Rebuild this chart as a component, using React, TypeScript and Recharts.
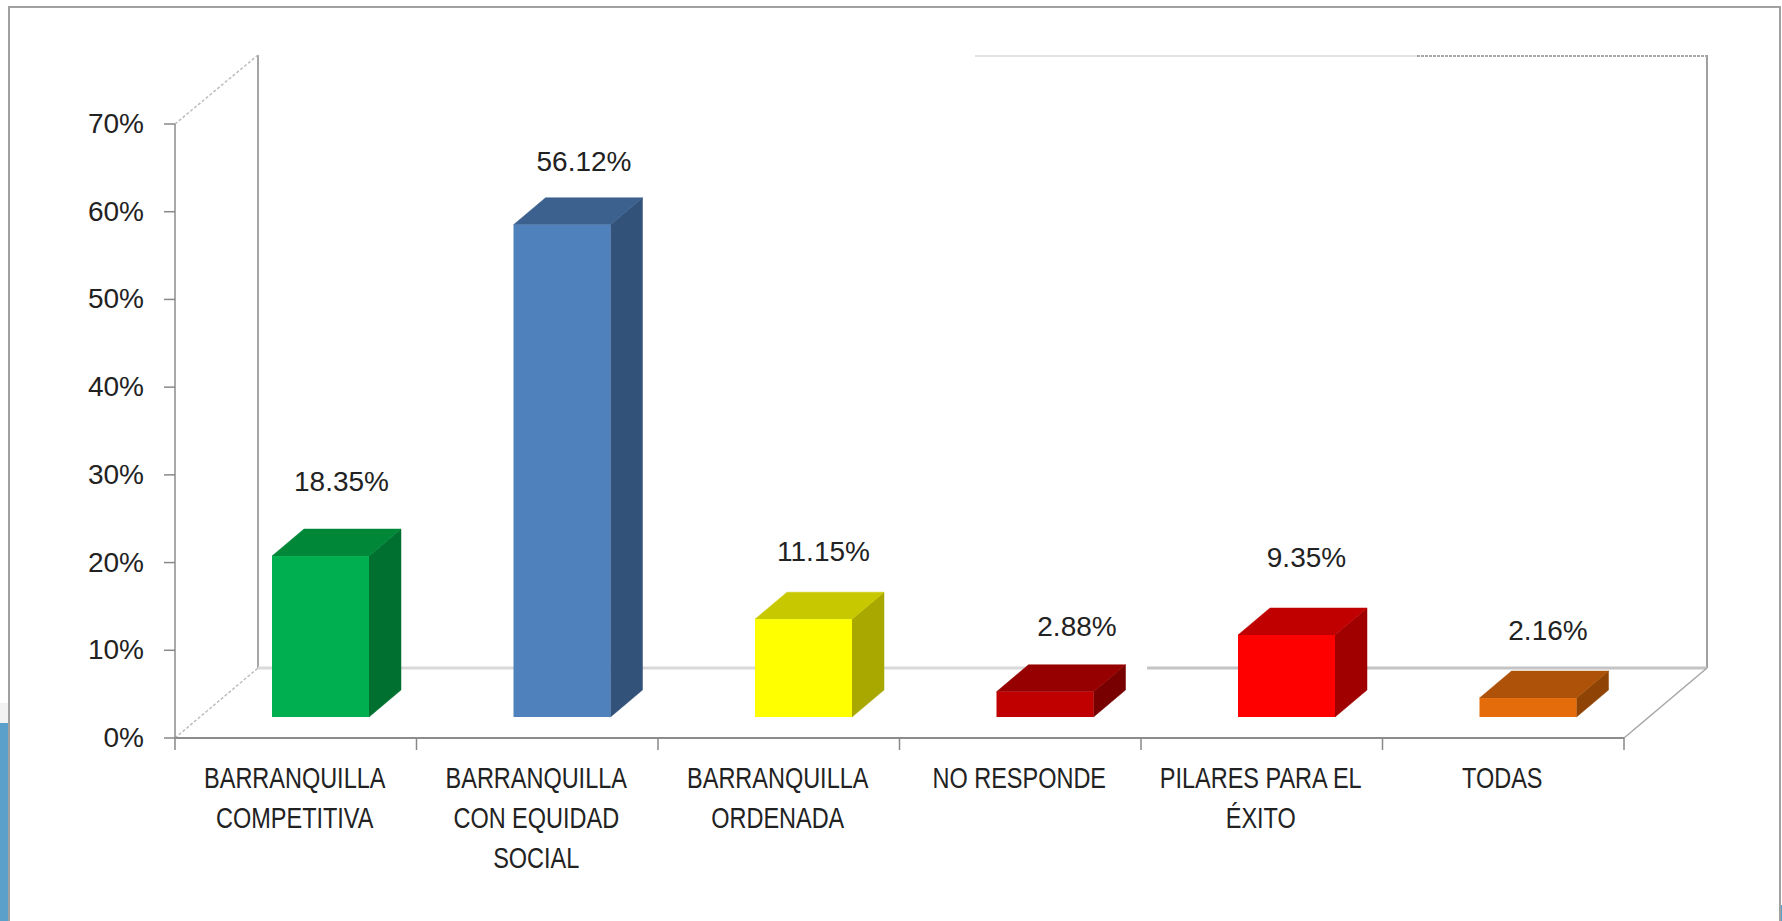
import React from 'react';
import { BarChart, Bar, XAxis, YAxis, LabelList } from 'recharts';

const categoryLines = [
  ['BARRANQUILLA', 'COMPETITIVA'],
  ['BARRANQUILLA', 'CON EQUIDAD', 'SOCIAL'],
  ['BARRANQUILLA', 'ORDENADA'],
  ['NO RESPONDE'],
  ['PILARES PARA EL', 'ÉXITO'],
  ['TODAS'],
];
const values = [18.35, 56.12, 11.15, 2.88, 9.35, 2.16];
const yTicks = [0, 10, 20, 30, 40, 50, 60, 70];

const fronts = ['#00B050', '#4F81BD', '#FFFF00', '#C00000', '#FF0000', '#E46C0A'];
const tops = ['#008738', '#3C618F', '#C8C800', '#960000', '#C00000', '#AD5208'];
const sides = ['#007030', '#32527A', '#A8A800', '#780000', '#A00000', '#8F4406'];

// hand placed in the original, so the labels don't sit at a constant distance
const labelDx = [21, 22, 20, 32, 20, 20];
const labelDy = [75, 63, 68, 65, 77, 68];

const rows = categoryLines.map((lines, i) => ({ name: lines.join(' '), value: values[i] }));

const W = 1782;
const H = 921;
const LEFT = 175;
const RIGHT = 1624;
const TOP = 124;
const BOTTOM = 738;
const BAND = (RIGHT - LEFT) / rows.length;
// floor/wall depth
const WALL_DX = 83;
const WALL_DY = 70;
const WALL_TOP = 55;
// bars stand on the middle of the floor
const BAR_DX = 25;
const BAR_DY = 21;
const BOX_DX = 32;
const BOX_DY = 27;

const SANS = '"Liberation Sans", Arial, sans-serif';
const INK = '#222';
// no narrow face installed, so the category text is squeezed sideways
const SQUEEZE = 0.81;

function Box(props: any) {
  const { x, y, width, height, index } = props;
  const l = x + BAR_DX;
  const r = l + width;
  const t = y - BAR_DY;
  const b = y + height - BAR_DY;
  return (
    <g>
      <polygon
        points={`${r},${t} ${r + BOX_DX},${t - BOX_DY} ${r + BOX_DX},${b - BOX_DY} ${r},${b}`}
        fill={sides[index]}
        stroke={sides[index]}
        strokeWidth={0.5}
      />
      <polygon
        points={`${l},${t} ${l + BOX_DX},${t - BOX_DY} ${r + BOX_DX},${t - BOX_DY} ${r},${t}`}
        fill={tops[index]}
        stroke={tops[index]}
        strokeWidth={0.5}
      />
      <rect x={l} y={t} width={width} height={height} fill={fronts[index]} />
    </g>
  );
}

function ValueLabel(props: any) {
  const { x, y, width, value, index } = props;
  return (
    <text
      x={x + width / 2 + BAR_DX + labelDx[index]}
      y={y - BAR_DY - labelDy[index]}
      textAnchor="middle"
      dominantBaseline="central"
      fontFamily={SANS}
      fontSize={28}
      fill={INK}
    >
      {Number(value).toFixed(2)}%
    </text>
  );
}

function CategoryTick(props: any) {
  const { x, index } = props;
  const left = x - BAND / 2;
  return (
    <g>
      <line x1={left} x2={left} y1={BOTTOM} y2={BOTTOM + 12} stroke="#888" strokeWidth={1.5} />
      {index === rows.length - 1 && (
        <line x1={left + BAND} x2={left + BAND} y1={BOTTOM} y2={BOTTOM + 12} stroke="#888" strokeWidth={1.5} />
      )}
      {categoryLines[index].map((line, i) => (
        <text
          key={i}
          transform={`translate(${x - 1},${BOTTOM + 50 + i * 40}) scale(${SQUEEZE},1)`}
          textAnchor="middle"
          fontFamily={SANS}
          fontSize={29}
          fill={INK}
        >
          {line}
        </text>
      ))}
    </g>
  );
}

function Walls() {
  const floorY = BOTTOM - WALL_DY;
  const backL = LEFT + WALL_DX;
  const backR = RIGHT + WALL_DX;
  return (
    <g fill="none">
      {/* back wall and floor */}
      <line x1={backL} x2={backL} y1={WALL_TOP} y2={floorY} stroke="#a6a6a6" strokeWidth={2} />
      <line x1={backR} x2={backR} y1={WALL_TOP} y2={floorY} stroke="#a0a0a0" strokeWidth={2} />
      <line x1={975} x2={1417} y1={WALL_TOP + 1} y2={WALL_TOP + 1} stroke="#e2e2e2" strokeWidth={2} />
      <line x1={1417} x2={backR} y1={WALL_TOP + 1} y2={WALL_TOP + 1} stroke="#a8a8a8" strokeWidth={2} strokeDasharray="3 1" />
      <line x1={backL} x2={1125} y1={floorY} y2={floorY} stroke="#d9d9d9" strokeWidth={3} />
      <line x1={1147} x2={backR} y1={floorY} y2={floorY} stroke="#c4c4c4" strokeWidth={3} />
      {/* depth edges */}
      <line x1={LEFT} y1={TOP} x2={backL} y2={WALL_TOP} stroke="#bdbdbd" strokeWidth={1.5} strokeDasharray="3 2" />
      <line x1={LEFT} y1={BOTTOM} x2={backL} y2={floorY} stroke="#bdbdbd" strokeWidth={1.5} strokeDasharray="3 2" />
      <line x1={RIGHT} y1={BOTTOM} x2={backR} y2={floorY} stroke="#a6a6a6" strokeWidth={1.5} />
    </g>
  );
}

function SlideEdges() {
  return (
    <g>
      <rect x={0} y={703} width={8} height={20} fill="#f2f2f2" />
      <rect x={0} y={723} width={8} height={198} fill="#5AA0CB" />
      <rect x={1781} y={905} width={1} height={16} fill="#5AA0CB" />
      <line x1={8} x2={1780} y1={7} y2={7} stroke="#a0a0a0" strokeWidth={2} />
      <line x1={9} x2={9} y1={6} y2={H} stroke="#a0a0a0" strokeWidth={2} />
      <line x1={1780} x2={1780} y1={6} y2={H} stroke="#a0a0a0" strokeWidth={2} />
    </g>
  );
}

export default function App() {
  return (
    <div style={{ position: 'absolute', left: 0, top: 0, width: W, height: H, background: '#fff' }}>
      <BarChart
        width={W}
        height={H}
        data={rows}
        barSize={97}
        margin={{ left: 0, right: W - RIGHT, top: TOP, bottom: 0 }}
      >
        <SlideEdges />
        <Walls />
        <XAxis
          dataKey="name"
          height={H - BOTTOM}
          interval={0}
          tickLine={false}
          axisLine={{ stroke: '#8c8c8c', strokeWidth: 2 }}
          tick={(p: any) => <CategoryTick {...p} />}
        />
        <YAxis
          width={LEFT}
          domain={[0, 70]}
          ticks={yTicks}
          interval={0}
          tickSize={11}
          tickMargin={20}
          tickLine={{ stroke: '#888', strokeWidth: 1.5 }}
          axisLine={{ stroke: '#8c8c8c', strokeWidth: 1.5 }}
          tick={{ fontFamily: SANS, fontSize: 28, fill: INK, dy: -1 }}
          tickFormatter={(v: number) => `${v}%`}
        />
        <Bar dataKey="value" isAnimationActive={false} shape={(p: any) => <Box {...p} />}>
          <LabelList dataKey="value" content={(p: any) => <ValueLabel {...p} />} />
        </Bar>
      </BarChart>
    </div>
  );
}
